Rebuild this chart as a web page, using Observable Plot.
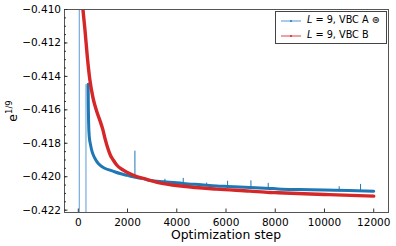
<!DOCTYPE html>
<html><head><meta charset="utf-8">
<script src="https://cdn.jsdelivr.net/npm/d3@7"></script>
<script src="https://cdn.jsdelivr.net/npm/@observablehq/plot@0.6"></script>
<style>
body{margin:0;background:#fff;}
#wrap{position:relative;width:396px;height:246px;font-family:"DejaVu Sans",sans-serif;color:#000;}
#wrap svg, #wrap svg text{font-family:"DejaVu Sans",sans-serif !important;font-size:10.5px !important;}
#ylab{position:absolute;left:12px;top:111px;transform:translate(-50%,-50%) rotate(-90deg);font-size:12.4px;white-space:nowrap;}
#ylab sup{font-size:8.5px;vertical-align:5px;}
#xlab{position:absolute;left:226px;top:227px;transform:translateX(-50%);font-size:12.4px;white-space:nowrap;}
#legend{position:absolute;left:275px;top:11px;width:112px;height:33px;box-sizing:border-box;border:1px solid #444;background:#fff;font-size:9.7px;}
.row{position:absolute;left:0;height:12px;line-height:12px;}
.sw{position:absolute;left:5px;width:20px;height:1.5px;}
.dot{position:absolute;left:9px;width:2px;height:2px;top:-0.5px;border-radius:1px;}
.tx{position:absolute;left:31px;top:-6px;white-space:nowrap;}
</style>
</head><body>
<div id="wrap"></div>
<script>
// VBC A (blue) main curve
const stepsA = [400, 410, 420, 447, 500, 544, 610, 678, 780, 881, 1050, 1287, 1500, 1693, 2000, 2233, 2600, 2911, 3500, 4000, 4263, 5000, 5619, 6065, 6971, 7783, 8120, 9000, 10000, 11000, 12000];
const valuesA = [-0.41447, -0.41600, -0.41680, -0.41762, -0.41810, -0.41841, -0.41870, -0.41891, -0.41915, -0.41931, -0.41948, -0.41961, -0.41972, -0.41981, -0.41992, -0.42001, -0.42010, -0.42022, -0.42030, -0.42036, -0.42040, -0.42048, -0.42055, -0.42058, -0.42064, -0.42070, -0.42073, -0.42077, -0.42080, -0.42083, -0.42087];
// VBC A isolated spikes
const spikeStepsA = [2300, 3520, 4263, 5213, 6065, 7012, 7715, 10597, 11465];
const spikeBaseA = [-0.42001, -0.42030, -0.42040, -0.42050, -0.42058, -0.42064, -0.42070, -0.42081, -0.42084];
const spikeTopA = [-0.41847, -0.42015, -0.42010, -0.42038, -0.42027, -0.42025, -0.42040, -0.42060, -0.42046];
// VBC A early transients
const initStepA = [40];
const initLowA = [-0.4230];
const initHighA = [-0.4090];
const bandStartA = [290];
const bandEndA = [370];
const bandTopA = [-0.4145];
// VBC B (red)
const stepsB = [150, 190, 270, 365, 470, 600, 750, 870, 1000, 1100, 1200, 1300, 1420, 1560, 1827, 2233, 2777, 3248, 4263, 5619, 6971, 7783, 8120, 10000, 12000];
const valuesB = [-0.4093, -0.4100, -0.4112, -0.4128, -0.4142, -0.4153, -0.4161, -0.4166, -0.4172, -0.4178, -0.4183, -0.4187, -0.4190, -0.4193, -0.41961, -0.41991, -0.42016, -0.42035, -0.42057, -0.42074, -0.42086, -0.42094, -0.42096, -0.42106, -0.42116];
// ticks
const xTicks = [0, 2000, 4000, 6000, 8000, 10000, 12000];
const yTicks = [-0.422, -0.420, -0.418, -0.416, -0.414, -0.412, -0.410];
const yMinor = d3.range(-0.4220, -0.40999, 0.0005);
const seriesNames = ["VBC A", "VBC B"];

const lineA = stepsA.map((s, i) => ({step: s, v: valuesA[i]}));
const lineB = stepsB.map((s, i) => ({step: s, v: valuesB[i]}));
const spikes = spikeStepsA.map((s, i) => ({step: s, lo: spikeBaseA[i], hi: spikeTopA[i]}));
const init = initStepA.map((s, i) => ({step: s, lo: initLowA[i], hi: initHighA[i]}));
const band = bandStartA.map((s, i) => ({x1: s, x2: bandEndA[i], top: bandTopA[i], bot: initLowA[0]}));

const blue = "#1f77b4", red = "#d62728";
const fmtY = v => d3.format(".3f")(v).replace("-", "\u2212");

const chart = Plot.plot({
  width: 396, height: 246,
  marginLeft: 64, marginRight: 8, marginTop: 9, marginBottom: 34,
  x: {domain: [-560, 12600]},
  y: {domain: [-0.42214, -0.4100]},
  style: {fontFamily: "DejaVu Sans", fontSize: "10.5px", color: "#000", background: "#fff"},
  marks: [
    Plot.rect(band, {x1: "x1", x2: "x2", y1: "bot", y2: "top", fill: "#a9cbe7", clip: true}),
    Plot.ruleX(init, {x: "step", y1: "lo", y2: "hi", stroke: "#5b9bd0", strokeWidth: 1, clip: true}),
    Plot.line(lineA, {x: "step", y: "v", stroke: blue, strokeWidth: 3, curve: "monotone-x", clip: true}),
    Plot.ruleX(spikes, {x: "step", y1: "lo", y2: "hi", stroke: blue, strokeWidth: 1, clip: true}),
    Plot.line(lineB, {x: "step", y: "v", stroke: red, strokeWidth: 3.4, curve: "monotone-x", clip: true}),
    Plot.frame({stroke: "#555", strokeWidth: 1}),
    Plot.axisX({ticks: xTicks, tickSize: -3.5, tickPadding: 9.5, tickFormat: d3.format("d"), label: null, stroke: "#333"}),
    Plot.axisY({ticks: yTicks, tickSize: -3.5, tickPadding: 7, tickFormat: fmtY, label: null, stroke: "#333"}),
    Plot.axisY({ticks: yMinor, tickSize: -2, tickFormat: () => "", label: null, stroke: "#333"})
  ]
});

const wrap = document.getElementById("wrap");
wrap.appendChild(chart);
wrap.insertAdjacentHTML("beforeend",
  `<div id="ylab">e<sup>1/9</sup></div>
   <div id="xlab">Optimization step</div>
   <div id="legend">
     <div class="row" style="top:8px;width:100%">
       <div class="sw" style="background:#a9cbe7"><div class="dot" style="background:${blue}"></div></div>
       <div class="tx"><i>L</i> = 9, ${seriesNames[0]} ⊛</div>
     </div>
     <div class="row" style="top:23px;width:100%">
       <div class="sw" style="background:#f0a0a0"><div class="dot" style="background:${red}"></div></div>
       <div class="tx"><i>L</i> = 9, ${seriesNames[1]}</div>
     </div>
   </div>`);
</script>
</body></html>
